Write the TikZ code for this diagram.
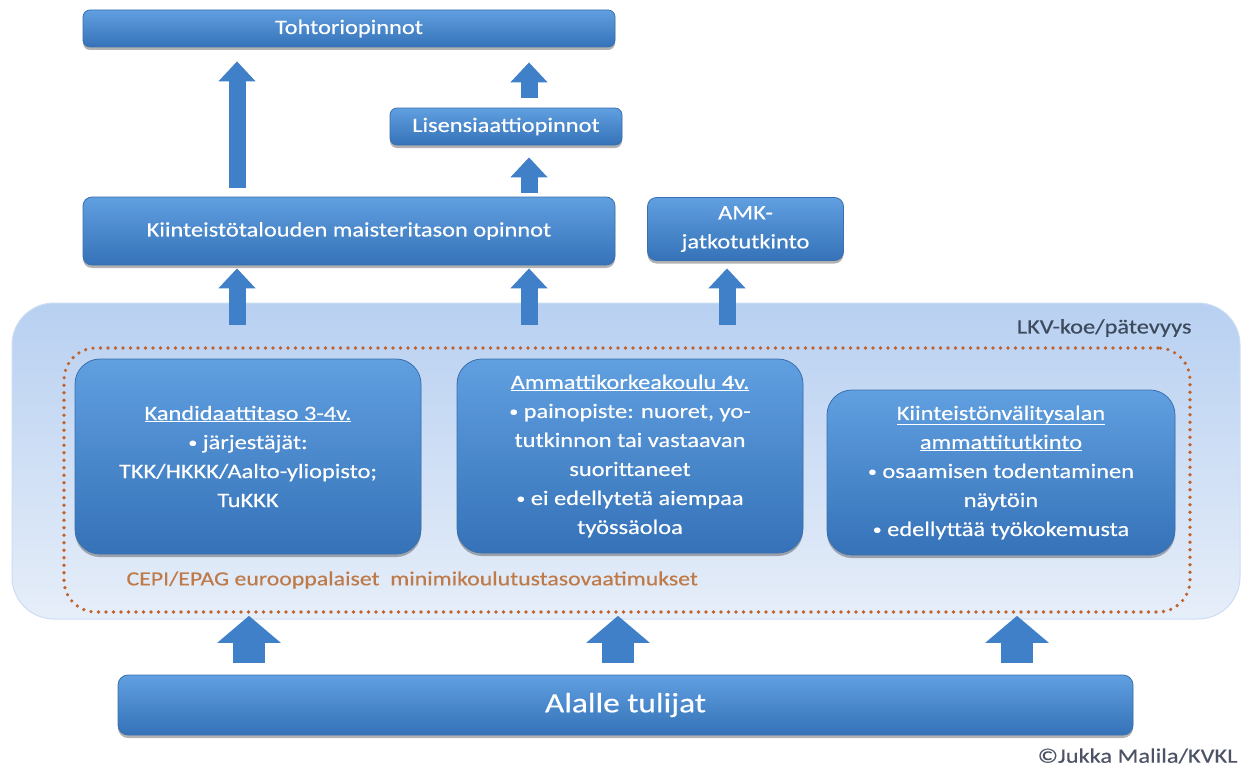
\documentclass[tikz,border=0pt]{standalone}
\usepackage{fontspec}
\setmainfont{Carlito}[FakeStretch=1.19,FakeBold=0.35]
\usetikzlibrary{arrows.meta,shadows}
\definecolor{boxtop}{HTML}{609FE0}
\definecolor{boxbot}{HTML}{3572B8}
\definecolor{boxedge}{HTML}{3A70AE}
\definecolor{arrowblue}{HTML}{3F80C8}
\definecolor{lighttop}{HTML}{B8D0F1}
\definecolor{lightbot}{HTML}{E6EEF9}
\definecolor{lightedge}{HTML}{CCDDF4}
\definecolor{dotorange}{HTML}{C0622A}
\definecolor{cepitext}{HTML}{BE7A48}
\definecolor{lkvtext}{HTML}{3C4A5C}
\definecolor{copytext}{HTML}{4D5366}
\newcommand{\mybul}{{\fontsize{15}{15}\selectfont\raisebox{1.5pt}{•}}}
\tikzset{
  bluebox/.style={draw=boxedge, line width=0.8pt, top color=boxtop, bottom color=boxbot,
    text=white, align=center, inner sep=0pt, rounded corners=#1,
    drop shadow={shadow xshift=0pt, shadow yshift=-3pt, opacity=0.3, fill=black},
    font=\fontsize{20.5}{29}\selectfont},
  bluebox/.default=7pt,
  uparrow/.style={draw=arrowblue, line width=17pt, -{Triangle[width=36pt,length=20pt]}},
  bigarrow/.style={draw=arrowblue, line width=32pt, -{Triangle[width=62pt,length=27pt]}},
}
\begin{document}
\begin{tikzpicture}[x=1pt,y=-1pt]
\useasboundingbox (0,0) rectangle (1249,776);
\fill[white] (0,0) rectangle (1249,776);

% light LKV area
\node[draw=lightedge, line width=1pt, top color=lighttop, bottom color=lightbot,
  rounded corners=42pt, minimum width=1228pt, minimum height=316pt, inner sep=0pt]
  (lkv) at (626,461) {};
\node[anchor=east, text=lkvtext, font=\fontsize{20.5}{24}\selectfont] (lkvlabel) at (1195,328) {LKV-koe/pätevyys};

% dotted frame
\node[draw=dotorange, line width=3.6pt, dash pattern=on 0pt off 7.5pt, line cap=round,
  rounded corners=32pt, minimum width=1126pt, minimum height=264pt, inner sep=0pt]
  (dot) at (627,480) {};
\node[anchor=west, text=cepitext, font=\fontsize{20}{24}\selectfont] (cepi) at (123,580)
  {CEPI/EPAG eurooppalaiset\ \ minimikoulutustasovaatimukset};

% upper boxes
\node[bluebox, minimum width=532pt, minimum height=37pt] (toht) at (349,28.5) {Tohtoriopinnot};
\node[bluebox, minimum width=232pt, minimum height=37pt] (lis) at (506,126.5) {Lisensiaattiopinnot};
\node[bluebox=9pt, minimum width=532pt, minimum height=68pt] (kiint) at (349,231) {Kiinteistötalouden maisteritason opinnot};
\node[bluebox=9pt, minimum width=196pt, minimum height=63pt] (amk) at (745.5,229) {AMK-\\jatkotutkinto};

% middle boxes
\node[bluebox=25pt, minimum width=346pt, minimum height=195pt] (b1) at (248,456.5)
  {\underline{Kandidaattitaso 3-4v.}\\\mybul\ järjestäjät:\\TKK/HKKK/Aalto-yliopisto;\\TuKKK};
\node[bluebox=25pt, minimum width=346pt, minimum height=194pt] (b2) at (630,456)
  {\underline{Ammattikorkeakoulu 4v.}\\\mybul\ painopiste: nuoret, yo-\\tutkinnon tai vastaavan\\suorittaneet\\\mybul\ ei edellytetä aiempaa\\työssäoloa};
\node[bluebox=25pt, minimum width=348pt, minimum height=165pt] (b3) at (1001,472.5)
  {\underline{Kiinteistönvälitysalan}\\\underline{ammattitutkinto}\\\mybul\ osaamisen todentaminen\\näytöin\\\mybul\ edellyttää työkokemusta};

% bottom box
\node[bluebox=10pt, minimum width=1015pt, minimum height=60pt, font=\fontsize{28}{32}\selectfont] (alalle) at (625.5,705) {Alalle tulijat};

\node[anchor=east, text=copytext, font=\fontsize{20.5}{24}\selectfont] (copy) at (1241,756) {©Jukka Malila/KVKL};

% arrows
\draw[uparrow, shorten <=9pt, shorten >=14pt] ([xshift=-112pt]kiint.north) -- ([xshift=-112pt]toht.south);
\draw[uparrow, shorten <=10pt, shorten >=15pt] ([xshift=23pt]lis.north) -- ([xshift=180pt]toht.south);
\draw[uparrow, shorten <=4pt, shorten >=12pt] ([xshift=180pt]kiint.north) -- ([xshift=23pt]lis.south);
\draw[uparrow, shorten <=21pt, shorten >=3pt] ([xshift=-390pt]dot.north) -- ([xshift=-112pt]kiint.south);
\draw[uparrow, shorten <=21pt, shorten >=3pt] ([xshift=-98pt]dot.north) -- ([xshift=180pt]kiint.south);
\draw[uparrow, shorten <=21pt, shorten >=7.5pt] ([xshift=100pt]dot.north) -- ([xshift=-18.5pt]amk.south);
\draw[bigarrow, shorten <=12pt, shorten >=2pt] ([xshift=-376.5pt]alalle.north) -- ([xshift=-378pt]dot.south);
\draw[bigarrow, shorten <=12pt, shorten >=2pt] ([xshift=-7.5pt]alalle.north) -- ([xshift=-9pt]dot.south);
\draw[bigarrow, shorten <=12pt, shorten >=2pt] ([xshift=391.5pt]alalle.north) -- ([xshift=390pt]dot.south);
\end{tikzpicture}
\end{document}
